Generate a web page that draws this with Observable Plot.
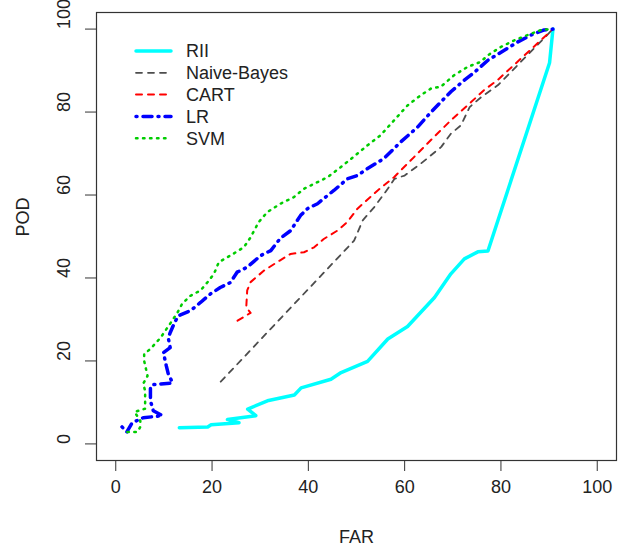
<!DOCTYPE html>
<html>
<head>
<meta charset="utf-8">
<script src="https://cdn.jsdelivr.net/npm/d3@7"></script>
<script src="https://cdn.jsdelivr.net/npm/@observablehq/plot@0.6"></script>
<style>
  body { margin: 0; background: #fff; }
  #wrap { position: relative; width: 618px; height: 546px; }
  #legend { position: absolute; left: 0; top: 0; pointer-events: none; }
  svg text { font-family: "Liberation Sans", Arial, Helvetica, sans-serif; }
</style>
</head>
<body>
<div id="wrap"></div>
<script>
// ---- data (FAR = x, POD = y) ----
const seriesNames = ["RII", "Naive-Bayes", "CART", "LR", "SVM"];

const far_RII = [13.2, 19.1, 19.8, 25.6, 23.2, 29.1, 27.4, 31.5, 37.1, 38.5, 44.7, 46.8, 52.3, 56.5, 60.6, 66.2, 69.6, 72.4, 75.2, 77.3, 90.1, 90.8];
const pod_RII = [3.9, 4.1, 4.6, 5.1, 5.9, 6.8, 8.4, 10.4, 11.8, 13.5, 15.6, 17.2, 19.9, 25.3, 28.3, 35.3, 41.0, 44.6, 46.3, 46.5, 91.9, 100];

const far_NB = [21.8, 49.5, 51.3, 53.7, 56.5, 57.9, 60.0, 63.4, 67.6, 69.6, 71.7, 73.5, 75.9, 79.4, 90.8];
const pod_NB = [15.0, 49.0, 53.9, 57.1, 61.5, 63.9, 64.7, 67.6, 71.6, 74.8, 76.8, 81.2, 83.6, 86.5, 100];

const far_CART = [25.3, 28.0, 27.1, 27.3, 28.0, 30.8, 33.5, 36.3, 39.1, 41.2, 43.2, 46.0, 48.1, 50.2, 54.4, 57.8, 62.0, 65.4, 69.6, 73.8, 76.5, 79.3, 90.8];
const pod_CART = [29.7, 31.6, 32.9, 37.0, 39.0, 41.8, 43.8, 45.8, 46.2, 47.4, 49.4, 51.4, 53.5, 56.7, 61.1, 64.3, 69.2, 73.2, 78.0, 82.4, 85.3, 87.7, 100];

const far_LR = [1.3, 2.3, 3.4, 5.7, 9.7, 7.8, 7.2, 7.2, 7.8, 11.8, 10.9, 10.5, 9.9, 11.3, 10.9, 11.3, 12.2, 13.0, 15.5, 17.6, 19.7, 21.7, 23.8, 25.2, 27.3, 30.1, 32.2, 34.2, 36.3, 38.4, 39.8, 41.9, 44.0, 45.3, 48.1, 50.2, 52.3, 55.7, 59.2, 62.7, 65.5, 67.5, 69.6, 72.4, 74.5, 77.3, 80.7, 83.5, 86.3, 89.0, 90.8];
const pod_LR = [4.1, 2.9, 5.1, 6.3, 6.8, 8.0, 10.4, 13.8, 14.3, 14.7, 16.9, 18.8, 22.0, 23.2, 25.6, 26.8, 29.2, 30.9, 32.1, 34.1, 36.2, 37.7, 38.9, 41.4, 42.6, 45.4, 46.6, 49.6, 51.4, 55.1, 56.7, 57.9, 59.9, 61.1, 63.9, 64.7, 66.4, 68.8, 72.8, 76.4, 80.0, 82.4, 84.9, 87.7, 89.6, 92.5, 94.9, 96.9, 98.6, 99.8, 100];

const far_SVM = [2.4, 4.5, 5.1, 5.1, 3.9, 6.1, 6.1, 6.1, 5.7, 6.6, 5.9, 5.9, 7.2, 9.3, 10.3, 11.3, 12.8, 13.8, 15.5, 17.6, 19.0, 20.4, 21.4, 23.8, 26.6, 28.0, 29.7, 31.5, 34.2, 37.0, 39.1, 41.2, 44.0, 46.7, 49.5, 52.3, 55.0, 57.8, 60.6, 63.4, 65.5, 67.5, 70.3, 73.1, 75.8, 77.3, 80.0, 82.8, 85.6, 88.4, 90.8];
const pod_SVM = [2.9, 2.9, 4.1, 5.6, 7.7, 8.5, 10.4, 12.8, 14.5, 16.4, 20.0, 21.7, 22.9, 25.6, 27.3, 29.0, 31.6, 33.8, 35.7, 37.0, 38.9, 41.0, 43.8, 45.4, 47.4, 49.8, 53.5, 55.9, 57.9, 59.5, 61.5, 62.7, 64.3, 66.7, 69.3, 72.0, 74.4, 78.0, 81.6, 84.1, 85.7, 86.1, 88.9, 90.9, 92.1, 93.7, 95.7, 97.3, 98.6, 99.8, 100];

const xTicks = [0, 20, 40, 60, 80, 100];
const yTicks = [0, 20, 40, 60, 80, 100];
const xLabel = "FAR";
const yLabel = "POD";

// ---- styles ----
const styles = {
  "RII":         { stroke: "#00FFFF", width: 3.5, dash: null },
  "Naive-Bayes": { stroke: "#4D4D4D", width: 1.8, dash: "6,6" },
  "CART":        { stroke: "#FF0000", width: 2,   dash: "6,6" },
  "LR":          { stroke: "#0000FF", width: 3.5, dash: "1,6,9,6" },
  "SVM":         { stroke: "#00CD00", width: 2.5, dash: "1.5,5.5" }
};

const seriesData = {
  "RII": [far_RII, pod_RII],
  "Naive-Bayes": [far_NB, pod_NB],
  "CART": [far_CART, pod_CART],
  "LR": [far_LR, pod_LR],
  "SVM": [far_SVM, pod_SVM]
};

const lineMarks = seriesNames.map(name => {
  const [xs, ys] = seriesData[name];
  const rows = xs.map((x, i) => ({ far: x, pod: ys[i] }));
  const s = styles[name];
  return Plot.line(rows, {
    x: "far", y: "pod",
    stroke: s.stroke, strokeWidth: s.width,
    strokeDasharray: s.dash || undefined,
    strokeLinecap: "round", strokeLinejoin: "round"
  });
});

const FONT = 18;

const chart = Plot.plot({
  width: 618,
  height: 546,
  marginTop: 12,
  marginBottom: 86,
  marginLeft: 96,
  marginRight: 2,
  style: { fontFamily: '"Liberation Sans", Arial, Helvetica, sans-serif', fontSize: FONT + "px", background: "#fff", color: "#222" },
  x: { domain: [-4, 104] },
  y: { domain: [-4, 104] },
  marks: [
    ...lineMarks,
    Plot.frame({ stroke: "#333", strokeWidth: 1.2 }),
    Plot.axisX({ ticks: xTicks, tickSize: 11, tickPadding: 9, fontSize: FONT, label: null, stroke: "#333" }),
    Plot.axisY({ ticks: yTicks, tickSize: 11, tickFormat: () => "", label: null, stroke: "#333" }),
    Plot.text(yTicks, { y: d => d, text: d => String(d), frameAnchor: "left", dx: -32, rotate: -90, fontSize: FONT, lineAnchor: "middle", fill: "#222" }),
    Plot.text([xLabel], { text: d => d, frameAnchor: "bottom", dy: 77, fontSize: FONT, lineAnchor: "middle", fill: "#222" }),
    Plot.text([yLabel], { text: d => d, frameAnchor: "left", dx: -73, rotate: -90, fontSize: FONT, lineAnchor: "middle", fill: "#222" })
  ]
});

const wrap = document.getElementById("wrap");
wrap.appendChild(chart);

// ---- legend overlay ----
const leg = d3.select(wrap).append("svg")
  .attr("id", "legend")
  .attr("width", 618).attr("height", 546);
const legX0 = 136, legX1 = 171, legTextX = 186, legY0 = 51, legStep = 21.8;
seriesNames.forEach((name, i) => {
  const s = styles[name];
  const y = legY0 + i * legStep;
  leg.append("line")
    .attr("x1", legX0).attr("x2", legX1).attr("y1", y).attr("y2", y)
    .attr("stroke", s.stroke).attr("stroke-width", s.width)
    .attr("stroke-dasharray", s.dash)
    .attr("stroke-linecap", "round");
  leg.append("text")
    .attr("x", legTextX).attr("y", y).attr("dy", "0.35em")
    .attr("font-size", FONT).attr("fill", "#222")
    .text(name);
});
</script>
</body>
</html>
